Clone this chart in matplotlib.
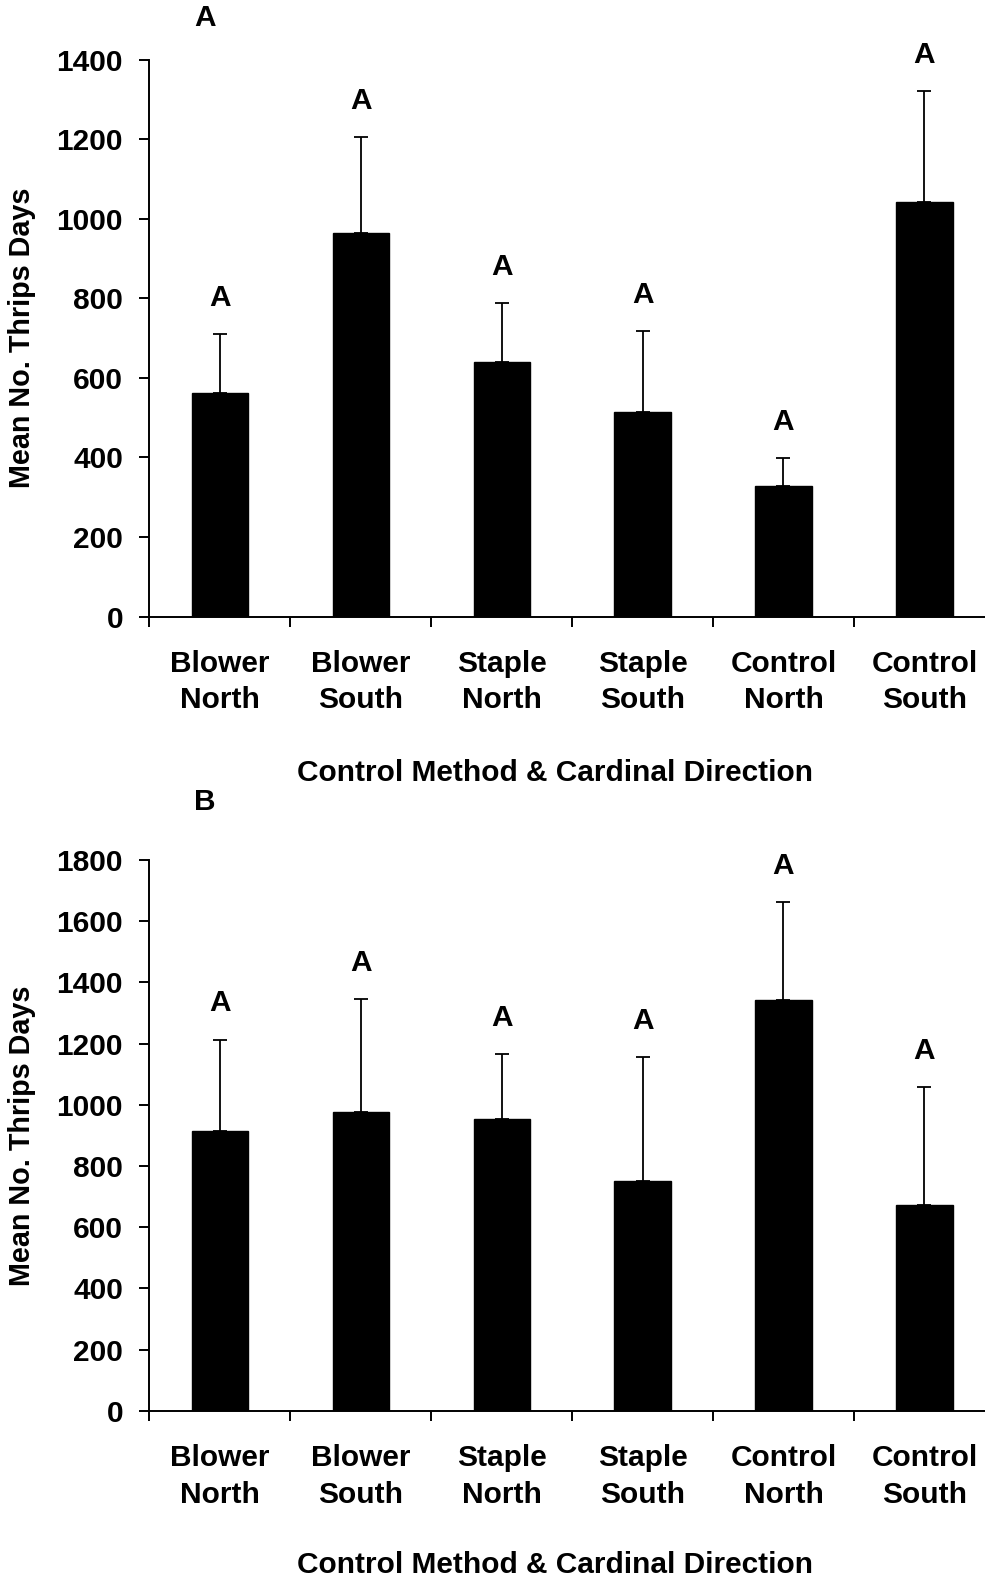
import numpy as np
import matplotlib
matplotlib.use('Agg')
import matplotlib.pyplot as plt

plt.rcParams['font.family'] = ['Liberation Sans', 'DejaVu Sans']
plt.rcParams['font.weight'] = 'bold'

categorias = ['Blower\nNorth', 'Blower\nSouth', 'Staple\nNorth',
              'Staple\nSouth', 'Control\nNorth', 'Control\nSouth']

# painel A
media_a = [563, 964, 641, 513, 328, 1042]
erro_a = [146, 242, 146, 205, 71, 279]
letras_a = ['A', 'A', 'A', 'A', 'A', 'A']

# painel B
media_b = [915, 975, 953, 750, 1341, 672]
erro_b = [298, 369, 212, 405, 321, 387]
letras_b = ['A', 'A', 'A', 'A', 'A', 'A']

FS = 21.5


def painel(ax, medias, erros, letras, ymax):
    x = np.arange(len(categorias))
    ax.bar(x, medias, width=0.4, color='black', edgecolor='black')
    ax.errorbar(x, medias, yerr=[np.zeros(len(erros)), erros], fmt='none',
                ecolor='black', elinewidth=1.3, capsize=5, capthick=1.3)
    for xi, m, e, l in zip(x, medias, erros, letras):
        ax.annotate(l, (xi, m + e), xytext=(0, 26), textcoords='offset points',
                    ha='center', va='center', fontsize=FS, fontweight='bold')

    ax.set_xlim(-0.5, len(categorias) - 0.5)
    ax.set_ylim(0, ymax)
    ax.set_yticks(np.arange(0, ymax + 1, 200))
    ax.tick_params(axis='y', length=7, width=1.4, pad=12, labelsize=FS)

    # marcas nas divisas, rótulos no centro das barras
    ax.set_xticks(np.arange(-0.5, len(categorias), 1))
    ax.set_xticklabels([])
    ax.set_xticks(x, minor=True)
    ax.set_xticklabels(categorias, minor=True)
    ax.tick_params(axis='x', which='major', length=7, width=1.4)
    ax.tick_params(axis='x', which='minor', length=0, pad=24, labelsize=FS)
    for t in ax.get_xticklabels(minor=True):
        t.set_linespacing(1.38)

    for s in ['top', 'right']:
        ax.spines[s].set_visible(False)
    for s in ['left', 'bottom']:
        ax.spines[s].set_linewidth(1.4)
    ax.set_ylabel('Mean No. Thrips Days', fontsize=20.7, fontweight='bold', va='center')
    ax.yaxis.set_label_coords(-(149.4 - 22) / 845.4, 0.5)


fig = plt.figure(figsize=(9.85, 15.83), dpi=100)
ax1 = fig.add_axes([0.1517, 0.6105, 0.8583, 0.3519])
ax2 = fig.add_axes([0.1517, 0.1087, 0.8583, 0.3481])

painel(ax1, media_a, erro_a, letras_a, 1400)
painel(ax2, media_b, erro_b, letras_b, 1800)

fig.text(205 / 985, 1 - 18 / 1583, 'A', ha='center', va='center', fontsize=FS, fontweight='bold')
fig.text(205 / 985, 1 - 802 / 1583, 'B', ha='center', va='center', fontsize=FS, fontweight='bold')
fig.text(555 / 985, 1 - 773 / 1583, 'Control Method & Cardinal Direction',
         ha='center', va='center', fontsize=FS, fontweight='bold')
fig.text(555 / 985, 1 - 1565 / 1583, 'Control Method & Cardinal Direction',
         ha='center', va='center', fontsize=FS, fontweight='bold')

fig.savefig('out.png', dpi=100)
